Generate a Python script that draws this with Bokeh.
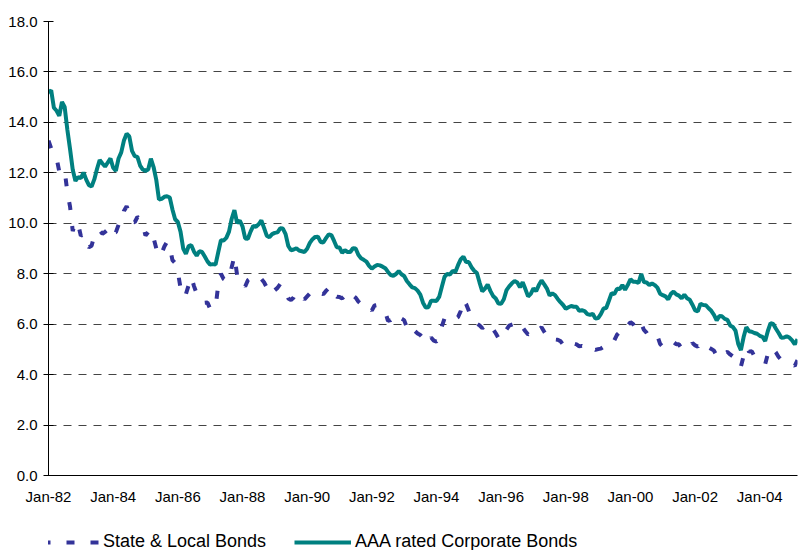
from bokeh.plotting import figure
from bokeh.models import (Range1d, FixedTicker, Legend, LegendItem, ColumnDataSource)
from bokeh.layouts import column
from bokeh.embed import file_html
from bokeh.resources import INLINE

# Monthly yields (%), Jan-1982 .. Mar-2005
aaa_corporate = [
    15.18, 15.27, 14.58, 14.46, 14.26, 14.81, 14.61, 13.71, 12.94, 12.12, 11.68, 11.83,
    11.79, 12.01, 11.73, 11.51, 11.46, 11.74, 12.15, 12.51, 12.37, 12.25, 12.41, 12.57,
    12.20, 12.08, 12.57, 12.81, 13.28, 13.55, 13.44, 12.87, 12.66, 12.63, 12.29, 12.13,
    12.08, 12.13, 12.56, 12.23, 11.72, 10.94, 10.97, 11.05, 11.07, 11.02, 10.55, 10.16,
    10.05, 9.67, 9.00, 8.79, 9.09, 9.13, 8.88, 8.72, 8.89, 8.86, 8.68, 8.49,
    8.36, 8.38, 8.36, 8.85, 9.33, 9.32, 9.42, 9.67, 10.18, 10.52, 10.01, 10.11,
    9.88, 9.40, 9.39, 9.67, 9.90, 9.86, 9.96, 10.11, 9.82, 9.51, 9.45, 9.57,
    9.62, 9.64, 9.80, 9.79, 9.57, 9.10, 8.93, 8.96, 9.01, 8.92, 8.89, 8.86,
    8.99, 9.22, 9.37, 9.46, 9.47, 9.26, 9.24, 9.41, 9.56, 9.53, 9.30, 9.05,
    9.04, 8.83, 8.93, 8.86, 8.86, 9.01, 9.00, 8.75, 8.61, 8.55, 8.48, 8.31,
    8.20, 8.29, 8.35, 8.33, 8.28, 8.22, 8.07, 7.95, 7.92, 7.99, 8.10, 7.98,
    7.91, 7.71, 7.58, 7.46, 7.43, 7.33, 7.17, 6.85, 6.66, 6.67, 6.93, 6.93,
    6.92, 7.08, 7.48, 7.88, 7.99, 7.97, 8.11, 8.07, 8.34, 8.57, 8.68, 8.46,
    8.46, 8.26, 8.12, 8.03, 7.65, 7.30, 7.41, 7.57, 7.32, 7.12, 7.02, 6.82,
    6.81, 6.99, 7.35, 7.50, 7.62, 7.71, 7.65, 7.46, 7.66, 7.39, 7.10, 7.20,
    7.42, 7.31, 7.55, 7.73, 7.58, 7.41, 7.14, 7.22, 7.15, 7.00, 6.87, 6.76,
    6.61, 6.67, 6.72, 6.69, 6.69, 6.53, 6.55, 6.52, 6.40, 6.37, 6.41, 6.22,
    6.24, 6.40, 6.62, 6.64, 6.93, 7.23, 7.19, 7.40, 7.39, 7.55, 7.36, 7.55,
    7.78, 7.68, 7.68, 7.64, 7.99, 7.67, 7.65, 7.55, 7.62, 7.55, 7.45, 7.21,
    7.15, 7.10, 6.98, 7.20, 7.29, 7.18, 7.13, 7.02, 7.17, 7.03, 6.97, 6.77,
    6.55, 6.51, 6.81, 6.76, 6.75, 6.63, 6.53, 6.37, 6.15, 6.32, 6.31, 6.21,
    6.17, 5.95, 5.89, 5.74, 5.22, 4.97, 5.49, 5.88, 5.72, 5.70, 5.65, 5.62,
    5.54, 5.50, 5.33, 5.73, 6.04, 6.01, 5.82, 5.65, 5.46, 5.47, 5.52, 5.47,
    5.36, 5.20, 5.40,
]

state_local = [
    13.28, 12.97, 12.82, 12.59, 12.05, 12.15, 12.10, 11.23, 10.66, 9.69, 10.06, 9.96,
    9.50, 9.58, 9.20, 9.05, 9.11, 9.52, 9.53, 9.72, 9.58, 9.66, 9.75, 9.89,
    9.63, 9.64, 9.94, 9.96, 10.49, 10.67, 10.42, 10.06, 10.04, 10.25, 10.17, 9.95,
    9.51, 9.65, 9.77, 9.42, 9.01, 8.69, 8.81, 9.08, 9.27, 9.08, 8.54, 8.42,
    8.08, 7.44, 7.08, 7.19, 7.54, 7.87, 7.51, 7.21, 7.11, 7.08, 6.85, 6.86,
    6.61, 6.61, 6.66, 7.55, 8.00, 7.79, 7.72, 7.82, 8.26, 8.70, 7.95, 7.96,
    7.69, 7.49, 7.74, 7.81, 7.91, 7.78, 7.76, 7.79, 7.66, 7.46, 7.46, 7.61,
    7.35, 7.44, 7.59, 7.49, 7.25, 7.02, 6.96, 7.06, 7.26, 7.22, 7.14, 6.98,
    7.10, 7.22, 7.29, 7.39, 7.35, 7.24, 7.19, 7.32, 7.43, 7.49, 7.18, 7.09,
    7.08, 7.02, 7.13, 7.02, 6.95, 7.13, 7.05, 6.90, 6.80, 6.68, 6.73, 6.69,
    6.54, 6.74, 6.76, 6.67, 6.57, 6.49, 6.13, 6.16, 6.25, 6.41, 6.36, 6.22,
    6.16, 5.87, 5.64, 5.76, 5.73, 5.63, 5.57, 5.45, 5.29, 5.25, 5.47, 5.35,
    5.31, 5.40, 5.91, 6.23, 6.19, 6.11, 6.23, 6.21, 6.28, 6.52, 6.97, 6.80,
    6.53, 6.22, 6.10, 6.02, 5.95, 5.84, 5.92, 6.06, 5.91, 5.80, 5.64, 5.45,
    5.43, 5.43, 5.79, 5.94, 5.98, 6.02, 5.92, 5.76, 5.87, 5.72, 5.59, 5.64,
    5.72, 5.63, 5.76, 5.88, 5.70, 5.53, 5.35, 5.41, 5.39, 5.38, 5.33, 5.19,
    5.06, 5.10, 5.21, 5.23, 5.20, 5.12, 5.14, 5.10, 4.99, 4.93, 5.03, 4.98,
    5.01, 5.03, 5.10, 5.08, 5.18, 5.37, 5.36, 5.58, 5.69, 5.92, 5.86, 5.95,
    6.08, 6.00, 5.83, 5.81, 6.03, 5.77, 5.66, 5.50, 5.54, 5.59, 5.54, 5.22,
    5.10, 5.18, 5.13, 5.27, 5.29, 5.20, 5.20, 5.03, 5.09, 5.05, 5.04, 5.25,
    5.16, 5.11, 5.29, 5.21, 5.19, 5.08, 5.02, 4.95, 4.74, 4.88, 4.95, 4.85,
    4.90, 4.80, 4.72, 4.71, 4.35, 4.32, 4.74, 5.10, 4.91, 4.93, 4.73, 4.65,
    4.61, 4.55, 4.41, 4.82, 5.07, 5.01, 4.88, 4.70, 4.58, 4.51, 4.50, 4.48,
    4.41, 4.35, 4.57,
]

x_tick_labels = ["Jan-82", "Jan-84", "Jan-86", "Jan-88", "Jan-90", "Jan-92",
                 "Jan-94", "Jan-96", "Jan-98", "Jan-00", "Jan-02", "Jan-04"]
y_tick_values = [0, 2, 4, 6, 8, 10, 12, 14, 16, 18]
y_tick_labels = ["0.0", "2.0", "4.0", "6.0", "8.0", "10.0", "12.0", "14.0", "16.0", "18.0"]
series_names = ["State & Local Bonds", "AAA rated Corporate Bonds"]
series_colors = ["#333399", "#008080"]

months = list(range(len(aaa_corporate)))
x_tick_positions = [24 * i for i in range(len(x_tick_labels))]

FONT = "Liberation Sans"
SL_DASH = "8 16"

# ---------------- main chart ----------------
p = figure(width=799, height=507, output_backend="svg", toolbar_location=None,
           x_range=Range1d(0, len(months) - 1), y_range=Range1d(0, 18),
           min_border_left=48, min_border_right=2, min_border_top=21, min_border_bottom=31)
p.outline_line_color = None
p.background_fill_color = "white"
p.border_fill_color = "white"

src = ColumnDataSource(dict(m=months, aaa=aaa_corporate, sl=state_local))
p.line("m", "sl", source=src, line_color=series_colors[0], line_width=4, line_dash=SL_DASH)
p.line("m", "aaa", source=src, line_color=series_colors[1], line_width=4)

p.xaxis.ticker = FixedTicker(ticks=x_tick_positions)
p.xaxis.major_label_overrides = {pos: lab for pos, lab in zip(x_tick_positions, x_tick_labels)}
p.xaxis.major_tick_out = 0
p.xaxis.major_tick_in = 0
p.xaxis.minor_tick_out = 0
p.xaxis.minor_tick_in = 0
p.xaxis.major_label_standoff = 12
p.xaxis.axis_line_color = "black"

p.yaxis.ticker = FixedTicker(ticks=y_tick_values)
p.yaxis.major_label_overrides = {v: lab for v, lab in zip(y_tick_values, y_tick_labels)}
p.yaxis.major_tick_out = 5
p.yaxis.major_tick_in = 5
p.yaxis.minor_tick_out = 0
p.yaxis.minor_tick_in = 0
p.yaxis.major_label_standoff = 6
p.yaxis.axis_line_color = "black"

for ax in (p.xaxis, p.yaxis):
    ax.major_label_text_font = FONT
    ax.major_label_text_font_size = "15px"
    ax.major_label_text_color = "black"
    ax.major_tick_line_color = "black"

p.xgrid.grid_line_color = None
p.ygrid.ticker = FixedTicker(ticks=y_tick_values)
p.ygrid.grid_line_color = "#444444"
p.ygrid.grid_line_dash = "8 7"
p.ygrid.grid_line_width = 1

# ---------------- legend strip ----------------
lg = figure(width=799, height=43, output_backend="svg", toolbar_location=None,
            x_range=Range1d(0, 1), y_range=Range1d(0, 1),
            min_border_left=0, min_border_right=0, min_border_top=0, min_border_bottom=0)
lg.axis.visible = False
lg.grid.visible = False
lg.outline_line_color = None
lg.background_fill_color = "white"
lg.border_fill_color = "white"

nan = float("nan")
key_src = ColumnDataSource(dict(x=[nan, nan], y=[nan, nan]))
k_sl = lg.line("x", "y", source=key_src, line_color=series_colors[0], line_width=4, line_dash=SL_DASH)
k_aaa = lg.line("x", "y", source=key_src, line_color=series_colors[1], line_width=4)

legend = Legend(items=[LegendItem(label=series_names[0], renderers=[k_sl]),
                       LegendItem(label=series_names[1], renderers=[k_aaa])],
                orientation="horizontal", location=(-6, -2),
                padding=0, margin=0, spacing=28, label_standoff=4,
                glyph_width=57, glyph_height=18, label_height=18,
                border_line_color=None, background_fill_alpha=0)
legend.label_text_font = FONT
legend.label_text_font_size = "18px"
legend.label_text_color = "black"
lg.add_layout(legend)

layout = column(p, lg, spacing=0)
open("out.html", "w").write(file_html(layout, INLINE))
